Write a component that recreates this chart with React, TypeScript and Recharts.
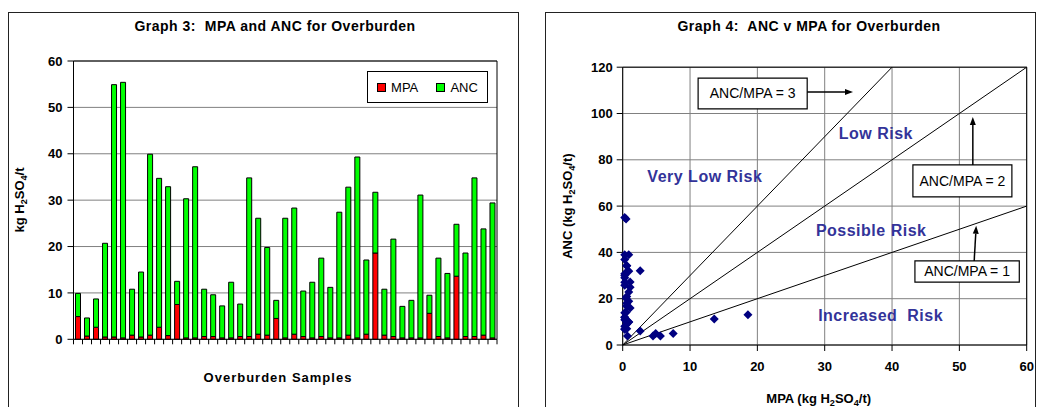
import React from 'react';
import {
  BarChart, Bar, XAxis, YAxis, CartesianGrid, Legend, ReferenceLine,
  ScatterChart, Scatter, ReferenceArea, ReferenceDot,
} from 'recharts';

// Overburden samples: MPA and ANC, kg H2SO4/t
const mpa = [
  4.9, 0.7, 2.6, 0.5, 0.5, 0.3, 0.9, 0.5, 0.9, 2.6, 0.8, 7.5, 0.3, 0.3, 0.6, 0.6,
  0.3, 0.3, 0.6, 0.6, 1.1, 0.9, 4.5, 0.3, 1.1, 0.6, 0.3, 0.6, 0.3, 0.3, 0.9, 0.3,
  1.1, 18.6, 0.9, 0.6, 0.3, 0.3, 0.3, 5.6, 0.6, 0.3, 13.6, 0.6, 0.6, 0.9, 0.3,
];
const anc = [
  5.0, 3.9, 6.1, 20.2, 54.4, 55.1, 9.9, 14.0, 39.0, 32.1, 32.1, 5.0, 30.0, 36.9, 10.2, 9.0,
  6.9, 12.0, 7.0, 34.2, 25.0, 18.9, 3.9, 25.8, 27.2, 9.8, 12.0, 16.9, 10.9, 27.1, 31.9, 39.0,
  16.0, 13.1, 9.9, 21.0, 6.8, 8.1, 30.8, 3.9, 16.9, 13.9, 11.2, 18.0, 34.2, 22.9, 29.1,
];
const samples = mpa.map((_, i) => `S${i + 1}`);
const legendOrder = ['MPA', 'ANC'];

const barTicks = [0, 10, 20, 30, 40, 50, 60];
const mpaTicks = [0, 10, 20, 30, 40, 50, 60];
const ancTicks = [0, 20, 40, 60, 80, 100, 120];

// ANC/MPA ratio lines, drawn from the origin
const ratioLines = [
  { ratio: 3, end: { x: 40, y: 120 } },
  { ratio: 2, end: { x: 60, y: 120 } },
  { ratio: 1, end: { x: 60, y: 60 } },
];
const ratioBoxes = [
  { text: 'ANC/MPA = 3', x1: 11.2, x2: 27.4, y1: 102, y2: 115.3 },
  { text: 'ANC/MPA = 2', x1: 43.1, x2: 57.8, y1: 64, y2: 77.8 },
  { text: 'ANC/MPA = 1', x1: 43.4, x2: 58.9, y1: 27.2, y2: 36.3 },
];
const arrows = [
  { from: { x: 27.4, y: 109.3 }, to: { x: 34.2, y: 109.3 } },
  { from: { x: 52.0, y: 77.8 }, to: { x: 52.0, y: 98.5 } },
  { from: { x: 52.2, y: 36.3 }, to: { x: 52.5, y: 51.5 } },
];
const riskLabels = [
  { text: 'Very Low Risk', x: 12.2, y: 73 },
  { text: 'Low Risk', x: 37.6, y: 91.6 },
  { text: 'Possible Risk', x: 36.9, y: 49.7 },
  { text: 'Increased\u00a0 Risk', x: 38.3, y: 13 },
];

const barData = samples.map((name, i) => ({ name, mpa: mpa[i], anc: anc[i] }));
const scatterData = mpa.map((m, i) => ({ mpa: m, anc: anc[i] }));

const FONT = '"Liberation Sans", Arial, sans-serif';
const tickStyle = { fill: '#000', fontSize: 13, fontWeight: 700, fontFamily: FONT };

const SubTitle = ({ cx, cy, lead, rotate, size = 13, spacing = 0 }: any) => (
  <text
    x={cx}
    y={cy}
    textAnchor="middle"
    transform={rotate ? `rotate(-90, ${cx}, ${cy})` : undefined}
    fontFamily={FONT}
    fontWeight={700}
    fontSize={size}
    letterSpacing={spacing}
    fill="#000"
  >
    {lead}H
    <tspan dy={3} fontSize={size * 0.7}>2</tspan>
    <tspan dy={-3}>SO</tspan>
    <tspan dy={3} fontSize={size * 0.7}>4</tspan>
    <tspan dy={-3}>/t{lead.startsWith('MPA') || lead.startsWith('ANC') ? ')' : ''}</tspan>
  </text>
);

// sample ticks sit on the category boundaries, not the bar centres
const BoundaryTick = (props: any) => {
  const { x, y, width, visibleTicksCount, index } = props;
  const band = width / visibleTicksCount;
  const left = x - band / 2;
  return (
    <g>
      <line x1={left} y1={y} x2={left} y2={y + 5} stroke="#000" />
      {index === visibleTicksCount - 1 && (
        <line x1={x + band / 2} y1={y} x2={x + band / 2} y2={y + 5} stroke="#000" />
      )}
    </g>
  );
};

const LegendBox = ({ payload }: any) => {
  const items = legendOrder
    .map((name) => (payload || []).find((p: any) => p.value === name))
    .filter(Boolean);
  return (
    <div
      style={{
        border: '1px solid #000', background: '#fff', height: 32, boxSizing: 'border-box',
        display: 'flex', alignItems: 'center', justifyContent: 'space-around',
        fontFamily: FONT, fontSize: 13, color: '#000',
      }}
    >
      {items.map((p: any) => (
        <span key={p.value} style={{ display: 'flex', alignItems: 'center' }}>
          <span style={{ width: 7, height: 7, background: p.color, border: '1px solid #000', marginRight: 5 }} />
          {p.value}
        </span>
      ))}
    </div>
  );
};

const Diamond = (props: any) => {
  const { cx, cy } = props;
  const r = 4.5;
  return <polygon points={`${cx},${cy - r} ${cx + r},${cy} ${cx},${cy + r} ${cx - r},${cy}`} fill="#000080" />;
};

const ArrowShape = (props: any) => {
  const { x1, y1, x2, y2 } = props;
  const a = Math.atan2(y2 - y1, x2 - x1);
  const L = 8;
  const w = 3;
  const bx = x2 - L * Math.cos(a);
  const by = y2 - L * Math.sin(a);
  const px = -Math.sin(a) * w;
  const py = Math.cos(a) * w;
  return (
    <g>
      <line x1={x1} y1={y1} x2={bx} y2={by} stroke="#000" strokeWidth={1.5} />
      <polygon points={`${x2},${y2} ${bx + px},${by + py} ${bx - px},${by - py}`} fill="#000" />
    </g>
  );
};

const panel = (left: number, width: number): React.CSSProperties => ({
  position: 'absolute', left, top: 12, width, height: 420, border: '1px solid #222', boxSizing: 'border-box',
});
const titleStyle = (center: number): React.CSSProperties => ({
  position: 'absolute', left: center - 200, width: 400, top: 18, textAlign: 'center',
  fontFamily: FONT, fontWeight: 700, fontSize: 14, letterSpacing: 0.5, color: '#000',
});

export default function App() {
  return (
    <div style={{ position: 'absolute', left: 0, top: 0, width: 1038, height: 407, background: '#fff', overflow: 'hidden' }}>
      <div style={panel(8, 511)} />
      <div style={panel(545, 491)} />
      <div style={titleStyle(275)}>Graph 3:&nbsp; MPA and ANC for Overburden</div>
      <div style={titleStyle(809)}>Graph 4:&nbsp; ANC v MPA for Overburden</div>

      <div style={{ position: 'absolute', left: 0, top: 0 }}>
        <BarChart
          width={519}
          height={407}
          data={barData}
          barSize={5}
          margin={{ top: 61, right: 22, bottom: 37.7, left: 13.5 }}
        >
          <CartesianGrid vertical={false} stroke="#808080" />
          <XAxis
            dataKey="name"
            interval={0}
            height={30}
            tickSize={0}
            tickMargin={0}
            tick={<BoundaryTick />}
            axisLine={{ stroke: '#000' }}
            label={{
              content: ({ viewBox }: any) => (
                <text x={278} y={viewBox.y + 43} textAnchor="middle" fontFamily={FONT} fontWeight={700} fontSize={13} letterSpacing={1}>
                  Overburden Samples
                </text>
              ),
            }}
          />
          <YAxis
            width={60}
            domain={[0, 60]}
            ticks={barTicks}
            interval={0}
            tick={tickStyle}
            tickMargin={5}
            tickLine={{ stroke: '#000' }}
            axisLine={{ stroke: '#000' }}
            label={{
              content: ({ viewBox }: any) => (
                <SubTitle cx={viewBox.x + 10} cy={200} lead="kg " rotate size={13} />
              ),
            }}
          />
          <ReferenceLine y={60} stroke="#000" />
          <ReferenceLine x={samples[samples.length - 1]} position="end" stroke="#000" />
          <Legend
            layout="vertical"
            align="center"
            verticalAlign="middle"
            content={<LegendBox />}
            wrapperStyle={{ left: 367, top: 71, width: 121 }}
          />
          <Bar dataKey="mpa" name="MPA" stackId="s" fill="#ff0000" stroke="#000" strokeWidth={1} isAnimationActive={false} />
          <Bar dataKey="anc" name="ANC" stackId="s" fill="#00ff00" stroke="#000" strokeWidth={1} isAnimationActive={false} />
        </BarChart>
      </div>

      <div style={{ position: 'absolute', left: 519, top: 0 }}>
        <ScatterChart
          width={519}
          height={407}
          margin={{ top: 67.2, right: 11.3, bottom: 22, left: 53.7 }}
        >
          <CartesianGrid stroke="#808080" />
          <XAxis
            type="number"
            dataKey="mpa"
            domain={[0, 60]}
            ticks={mpaTicks}
            interval={0}
            height={40}
            tick={tickStyle}
            tickMargin={11}
            tickLine={{ stroke: '#000' }}
            axisLine={{ stroke: '#000' }}
            label={{
              content: ({ viewBox }: any) => (
                <SubTitle cx={viewBox.x + viewBox.width / 2 - 6} cy={viewBox.y + 58} lead="MPA (kg " size={13} />
              ),
            }}
          />
          <YAxis
            type="number"
            dataKey="anc"
            width={50}
            domain={[0, 120]}
            ticks={ancTicks}
            interval={0}
            tick={tickStyle}
            tickMargin={4}
            tickLine={{ stroke: '#000' }}
            axisLine={{ stroke: '#000' }}
            label={{
              content: ({ viewBox }: any) => (
                <SubTitle cx={viewBox.x - 1} cy={viewBox.y + viewBox.height / 2} lead="ANC (kg " rotate size={13} />
              ),
            }}
          />
          <ReferenceLine y={120} stroke="#000" />
          <ReferenceLine x={60} stroke="#000" />
          {ratioLines.map((l) => (
            <ReferenceLine key={l.ratio} segment={[{ x: 0, y: 0 }, l.end]} stroke="#000" strokeWidth={1} />
          ))}
          {arrows.map((a, i) => (
            <ReferenceLine key={`ar${i}`} segment={[a.from, a.to]} shape={ArrowShape} />
          ))}
          {ratioBoxes.map((b) => (
            <ReferenceArea
              key={b.text}
              x1={b.x1}
              x2={b.x2}
              y1={b.y1}
              y2={b.y2}
              fill="#fff"
              fillOpacity={1}
              stroke="#000"
              strokeWidth={1.2}
              label={{ value: b.text, position: 'center', fill: '#000', fontSize: 14, fontFamily: FONT }}
            />
          ))}
          {riskLabels.map((r) => (
            <ReferenceDot
              key={r.text}
              x={r.x}
              y={r.y}
              r={0.1}
              fill="none"
              stroke="none"
              label={{ value: r.text, position: 'center', fill: '#333399', fontSize: 16, fontWeight: 700, fontFamily: FONT, letterSpacing: 0.5 }}
            />
          ))}
          <Scatter data={scatterData} shape={Diamond} isAnimationActive={false} />
        </ScatterChart>
      </div>
    </div>
  );
}
